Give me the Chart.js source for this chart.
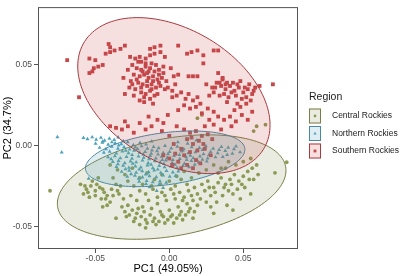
<!DOCTYPE html>
<html>
<head>
<meta charset="utf-8">
<script src="https://cdn.jsdelivr.net/npm/chart.js@4.4.1/dist/chart.umd.min.js"></script>
<style>
  html, body { margin: 0; padding: 0; background: #fff; }
  #wrap { width: 400px; height: 276px; }
</style>
</head>
<body>
<div id="wrap"><canvas id="pca" width="400" height="276"></canvas></div>
<script>
const X_TICKS = [-0.05, 0, 0.05];
const Y_TICKS = [-0.05, 0, 0.05];
const REGIONS = ['Central Rockies', 'Northern Rockies', 'Southern Rockies'];

// PC1 / PC2 scores
const central = [
  [-0.0806,-0.028],[-0.060,-0.024],[-0.056,-0.027],[-0.053,-0.025],[-0.050,-0.028],[-0.047,-0.026],[-0.044,-0.029],
  [-0.058,-0.030],[-0.054,-0.032],[-0.050,-0.031],[-0.046,-0.033],[-0.042,-0.031],[-0.052,-0.022],[-0.048,-0.020],
  [-0.039,-0.027],[-0.036,-0.024],[-0.040,-0.035],[-0.034,-0.030],[-0.031,-0.033],[-0.045,-0.038],
  [-0.036,-0.045],[-0.029,-0.044],[-0.042,-0.037],
  [-0.028,-0.037],[-0.025,-0.040],[-0.022,-0.042],[-0.019,-0.044],[-0.016,-0.046],[-0.013,-0.043],[-0.010,-0.045],
  [-0.007,-0.047],[-0.004,-0.044],[-0.001,-0.046],[0.002,-0.043],[0.005,-0.045],[0.008,-0.041],[0.011,-0.043],
  [0.014,-0.039],[0.017,-0.041],[-0.024,-0.047],[-0.020,-0.049],[-0.015,-0.048],[-0.009,-0.049],[-0.003,-0.048],
  [0.003,-0.048],[0.009,-0.046],[-0.016,-0.051],[-0.030,-0.041],[-0.012,-0.039],[-0.006,-0.041],[0.000,-0.040],
  [0.006,-0.038],[0.012,-0.036],[-0.018,-0.038],[-0.022,-0.034],[-0.026,-0.031],[-0.014,-0.034],[-0.008,-0.036],
  [-0.002,-0.034],[0.004,-0.033],[0.010,-0.032],[0.016,-0.034],[0.019,-0.037],
  [-0.020,-0.028],[-0.016,-0.030],[-0.011,-0.027],[-0.005,-0.029],[0.001,-0.027],[0.007,-0.029],[0.013,-0.028],
  [0.019,-0.030],[0.024,-0.028],[0.028,-0.031],[0.022,-0.024],[0.026,-0.022],[0.030,-0.026],[0.033,-0.023],
  [0.035,-0.020],[0.038,-0.024],[0.041,-0.021],[0.044,-0.018],[0.047,-0.022],[0.050,-0.019],[0.053,-0.016],
  [0.056,-0.014],[0.059,-0.012],[0.060,-0.018],[0.057,-0.021],[0.040,-0.028],[0.043,-0.030],[0.046,-0.027],
  [0.036,-0.031],[0.032,-0.035],[0.028,-0.038],[0.025,-0.035],[0.048,-0.033],[0.051,-0.026],[0.039,-0.037],
  [0.030,-0.042],[0.043,-0.040],[0.055,-0.030],[0.0714,-0.0169],[0.0793,-0.0103],
  [0.019,0.017],[0.022,0.019],[0.057,0.009],[0.059,0.012],[0.065,0.013],
  [-0.040,-0.012],[-0.035,-0.015],[-0.030,-0.018],[-0.025,-0.014],[-0.020,-0.020],[-0.015,-0.017],[-0.010,-0.021],
  [-0.005,-0.018],[0.000,-0.022],[0.005,-0.019],[0.010,-0.016],[0.015,-0.020],[0.020,-0.017],[0.025,-0.015],
  [0.030,-0.012],[0.035,-0.014],[0.040,-0.010],[0.045,-0.012],[-0.028,-0.022],[-0.033,-0.025],[-0.038,-0.020],
  [0.012,-0.024],[0.017,-0.026],
  [-0.057,-0.025],[-0.055,-0.029],[-0.049,-0.024],[-0.045,-0.027],[-0.043,-0.033],[-0.038,-0.031],[-0.035,-0.028],
  [-0.032,-0.038],[-0.027,-0.043],[-0.023,-0.045],[-0.021,-0.039],[-0.017,-0.041],[-0.011,-0.047],[-0.005,-0.043],
  [0.001,-0.044],[0.007,-0.043],[0.013,-0.041],[0.016,-0.045],[-0.008,-0.032],[-0.003,-0.031],[0.003,-0.030],
  [0.009,-0.034],[0.015,-0.031],[0.021,-0.033],[0.027,-0.026],[0.031,-0.029],[0.037,-0.026],[0.042,-0.024],
  [0.049,-0.024],[0.054,-0.021],[-0.024,-0.025],[-0.018,-0.024],[-0.012,-0.025],[-0.006,-0.024],[0.004,-0.025],
  [0.008,-0.021],[0.033,-0.017],[0.038,-0.014],[0.050,-0.010],[0.055,-0.008]
];

const northern = [
  [-0.0756,0.0053],[-0.0727,-0.0042],[-0.0545,-0.0204],
  [-0.058,0.0048],[-0.0553,0.0041],[-0.0521,0.0052],[-0.0494,0.0037],[-0.0462,0.0049],[-0.0437,0.0031],[-0.0405,0.0044],
  [-0.0372,0.0036],[-0.0346,0.0051],[-0.0311,0.0028],
  [-0.0498,0.0012],[-0.0452,0.0019],[-0.0413,0.0006],[-0.0366,0.0015],[-0.0324,0.0009],[-0.0281,0.0022],[-0.0243,0.0004],
  [-0.0198,0.0017],[-0.0157,0.0008],[-0.0119,0.0026],[0.0058,0.0021],[0.0124,0.0013],[0.0183,0.0032],
  [-0.0471,-0.0013],[-0.0428,-0.0021],[-0.0389,-0.0006],[-0.0347,-0.0018],[-0.0306,-0.0009],[-0.0268,-0.0024],
  [-0.0229,-0.0011],[-0.0187,-0.0003],[-0.0148,-0.0019],[-0.0106,-0.0008],[-0.0072,-0.0015],[-0.0029,-0.0002],
  [0.0013,-0.0017],[0.0054,-0.0006],[0.0098,-0.0022],[0.0151,-0.0009],[0.0203,-0.0014],[0.0247,-0.0003],
  [0.0296,-0.0019],[0.0352,-0.0008],[0.0398,-0.0012],[0.0451,-0.0004],
  [-0.0442,-0.0043],[-0.0403,-0.0037],[-0.0358,-0.0048],[-0.0317,-0.0035],[-0.0276,-0.0046],[-0.0238,-0.0031],
  [-0.0201,-0.0044],[-0.0163,-0.0038],[-0.0122,-0.0049],[-0.0083,-0.0034],[-0.0041,-0.0045],[0.0002,-0.0039],
  [0.0043,-0.0051],[0.0082,-0.0036],[0.0128,-0.0047],[0.0176,-0.0041],[0.0231,-0.0053],[0.0279,-0.0038],
  [0.0327,-0.0046],[0.0378,-0.0033],[0.0426,-0.0049],[0.0478,-0.0041],
  [-0.0414,-0.0072],[-0.0368,-0.0065],[-0.0331,-0.0078],[-0.0289,-0.0069],[-0.0252,-0.0081],[-0.0208,-0.0066],
  [-0.0173,-0.0075],[-0.0129,-0.0063],[-0.0091,-0.0079],[-0.0052,-0.0068],[-0.0014,-0.0076],[0.0032,-0.0064],
  [0.0071,-0.0082],[0.0113,-0.0071],[0.0162,-0.0077],[0.0207,-0.0066],[0.0259,-0.0079],[0.0312,-0.0072],[0.0361,-0.0069],
  [-0.0382,-0.0101],[-0.0343,-0.0094],[-0.0301,-0.0108],[-0.0262,-0.0097],[-0.0224,-0.0103],[-0.0181,-0.0092],
  [-0.0143,-0.0109],[-0.0098,-0.0096],[-0.0061,-0.0104],[-0.0023,-0.0091],[0.0019,-0.0107],[0.0063,-0.0099],
  [0.0102,-0.0111],[0.0149,-0.0095],[0.0198,-0.0104],[0.0253,-0.0098],
  [-0.0357,-0.0132],[-0.0312,-0.0124],[-0.0273,-0.0137],[-0.0229,-0.0128],[-0.0192,-0.0135],[-0.0148,-0.0122],
  [-0.0111,-0.0139],[-0.0068,-0.0126],[-0.0032,-0.0134],[0.0011,-0.0129],[0.0052,-0.0138],[0.0093,-0.0125],[0.0134,-0.0133],
  [-0.0322,-0.0162],[-0.0271,-0.0155],[-0.0224,-0.0167],[-0.0183,-0.0158],[-0.0139,-0.0164],[-0.0102,-0.0153],
  [-0.0058,-0.0168],[-0.0019,-0.0157],[0.0024,-0.0166],[0.0061,-0.0159],
  [-0.0284,-0.0193],[-0.0232,-0.0186],[-0.0181,-0.0197],[-0.0134,-0.0189],[-0.0088,-0.0195],[-0.0042,-0.0184],
  [0.0003,-0.0192],[0.0042,-0.0188],
  [-0.0204,-0.0223],[-0.0153,-0.0218],[-0.0112,-0.0227],[-0.0063,-0.0221],[-0.0021,-0.0229],
  [-0.0133,-0.0258],[-0.0085,-0.0281],[-0.0042,-0.0262],
  [-0.0449,0.0026],[-0.0388,0.0021],[-0.0342,0.0002],[-0.0294,-0.0031],[-0.0251,-0.0058],[-0.0214,-0.0021],
  [-0.0176,-0.0054],[-0.0137,-0.0084],[-0.0117,-0.0029],[-0.0076,-0.0055],[-0.0047,-0.0088],[-0.0009,-0.0052],
  [0.0024,-0.0089],[0.0068,-0.0058],[0.0091,-0.0031],[0.0142,-0.0062],[0.0187,-0.0088],[0.0224,-0.0027],
  [0.0268,-0.0058],[0.0337,-0.0026],[0.0391,-0.0057],[0.0437,-0.0022],[-0.0393,-0.0083],[-0.0347,-0.0114],
  [-0.0296,-0.0146],[-0.0247,-0.0112],[-0.0203,-0.0147],[-0.0159,-0.0178],[-0.0123,-0.0118],[-0.0078,-0.0148],
  [-0.0037,-0.0113],[0.0038,-0.0118],[0.0082,-0.0146],[0.0118,-0.0088],[0.0172,-0.0118],[0.0224,-0.0087],
  [-0.0258,-0.0176],[-0.0207,-0.0204],[-0.0157,-0.0238],[-0.0069,-0.0243]
];

const southern = [
  [-0.069,0.053],[-0.061,0.030],
  [-0.054,0.054],[-0.050,0.053],[-0.051,0.048],[-0.048,0.049],[-0.045,0.050],[-0.054,0.045],[-0.052,0.046],
  [-0.043,0.057],[-0.040,0.058],[-0.037,0.059],[-0.033,0.060],[-0.030,0.062],[-0.040,0.061],[-0.041,0.063],
  [-0.0265,0.055],[-0.023,0.054],[-0.020,0.055],[-0.016,0.054],[-0.013,0.056],[-0.010,0.057],[-0.006,0.058],
  [-0.003,0.055],[-0.006,0.062],[-0.010,0.061],[-0.013,0.060],
  [-0.025,0.050],[-0.022,0.048],[-0.019,0.047],[-0.016,0.049],[-0.013,0.048],[-0.010,0.046],[-0.007,0.047],
  [-0.004,0.045],[-0.024,0.044],[-0.020,0.043],[-0.017,0.044],[-0.014,0.042],[-0.011,0.043],[-0.008,0.041],
  [-0.005,0.042],[-0.002,0.040],[-0.026,0.040],[-0.021,0.039],[-0.018,0.038],[-0.015,0.037],[-0.012,0.038],
  [-0.009,0.036],[-0.006,0.037],[-0.003,0.035],[-0.023,0.035],[-0.019,0.033],[-0.016,0.032],[-0.013,0.034],
  [-0.010,0.031],[-0.020,0.028],[-0.017,0.027],[-0.013,0.029],[-0.018,0.046],[-0.015,0.045],[-0.012,0.051],
  [-0.009,0.050],[0.001,0.048],[0.003,0.043],[-0.021,0.052],[-0.028,0.047],[-0.031,0.042],[-0.027,0.036],
  [-0.030,0.032],[-0.024,0.031],[-0.008,0.032],[-0.001,0.036],[0.004,0.038],[0.006,0.044],
  [-0.019,0.052],[-0.016,0.051],[-0.014,0.046],[-0.011,0.040],[-0.007,0.044],[-0.004,0.049],[-0.022,0.041],
  [-0.019,0.036],[-0.015,0.040],[-0.012,0.035],[-0.007,0.039],[-0.025,0.038],[-0.017,0.030],[-0.011,0.026],[0.002,0.030],
  [0.006,0.062],[0.012,0.057],[0.015,0.058],[0.019,0.059],[0.023,0.056],[0.030,0.059],[0.033,0.059],
  [0.023,0.051],[0.013,0.043],[0.016,0.043],[0.019,0.043],[0.033,0.045],[0.036,0.042],[0.034,0.039],[0.039,0.039],
  [0.025,0.038],[0.029,0.036],[0.032,0.039],[0.035,0.037],[0.038,0.035],[0.041,0.037],[0.044,0.034],[0.047,0.036],
  [0.050,0.033],[0.053,0.035],[0.056,0.032],[0.058,0.036],[0.030,0.033],[0.034,0.031],[0.037,0.032],[0.040,0.030],
  [0.045,0.031],[0.049,0.029],[0.052,0.030],[0.055,0.028],[0.027,0.031],[0.043,0.039],[0.048,0.040],[0.036,0.041],
  [0.061,0.037],[0.070,0.038],[0.052,0.026],[0.046,0.026],[0.044,0.022],[0.048,0.024],[0.056,0.021],
  [0.038,0.038],[0.042,0.033],[0.046,0.038],[0.051,0.036],[0.054,0.038],[0.031,0.036],[0.057,0.034],[0.039,0.027],
  [0.002,0.034],[0.005,0.031],[0.008,0.033],[0.011,0.029],[0.013,0.032],[0.016,0.028],[0.019,0.030],[0.021,0.026],
  [0.010,0.025],[0.014,0.023],[0.018,0.024],[0.006,0.022],[0.022,0.020],[0.026,0.023],[0.030,0.021],[0.033,0.018],
  [0.037,0.016],[0.041,0.018],[0.045,0.015],[0.030,0.013],[0.027,0.016],[0.024,0.012],[0.049,0.019],[0.053,0.016],
  [0.042,0.012],[0.035,0.010],
  [-0.040,0.012],[-0.036,0.011],[-0.032,0.010],[-0.028,0.012],[-0.024,0.008],[-0.020,0.014],[-0.016,0.010],
  [-0.012,0.012],[-0.008,0.016],[-0.004,0.014],[-0.001,0.019],[-0.030,0.015],[-0.014,0.018],[-0.005,0.009],[0.000,0.006],
  [0.005,0.012],[0.010,0.010],[0.014,0.008],[0.018,0.009],[0.022,0.006],[0.026,0.007],[0.029,0.004],[0.012,0.004],
  [0.016,0.001],[0.020,0.003],[0.008,-0.002],[0.004,-0.005],[0.010,-0.006],[0.014,-0.004],[0.000,-0.008],
  [0.006,-0.010],[0.012,-0.012],[0.018,-0.009],[0.024,-0.002],[0.002,-0.012],[0.008,-0.014],[-0.004,-0.006],
  [0.016,-0.014],[0.028,-0.006],[0.015,0.005],[0.019,-0.003],[0.023,0.001],[0.021,-0.011],[0.003,0.001]
];

// 95% ellipses: centre x, centre y, then two conjugate semi-axes (dx, dy)
const ellipseCentral  = [0.0016, -0.0257, 0.0770, 0.0127, 0.0061, -0.0298];
const ellipseNorthern = [-0.0028, -0.0082, 0.0538, 0.0065, 0.0024, -0.0160];
const ellipseSouthern = [0.0031, 0.0310, 0.0603, -0.0336, 0.0242, 0.0348];

const POINT_COLORS = ['#8c9b55', '#4ea2ba', '#c5484b'];
const LINE_COLORS  = ['#7a7d45', '#4a88a0', '#a8393f'];
const FILL_COLORS  = ['rgba(140,150,90,0.18)', 'rgba(75,160,190,0.18)', 'rgba(200,65,65,0.17)'];
const SHAPES = ['circle', 'triangle', 'rect'];
const FONT = '"Liberation Sans", Arial, sans-serif';

const toXY = arr => arr.map(([x, y]) => ({ x, y }));

function ellipsePath(ctx, xs, ys, e) {
  ctx.beginPath();
  for (let k = 0; k <= 144; k++) {
    const t = k / 144 * Math.PI * 2;
    const px = xs.getPixelForValue(e[0] + e[2] * Math.cos(t) + e[4] * Math.sin(t));
    const py = ys.getPixelForValue(e[1] + e[3] * Math.cos(t) + e[5] * Math.sin(t));
    if (k === 0) ctx.moveTo(px, py); else ctx.lineTo(px, py);
  }
  ctx.closePath();
}

const ellipsePlugin = {
  id: 'ellipses',
  afterDatasetsDraw(chart) {
    const { ctx, chartArea: a, scales: { x, y } } = chart;
    ctx.save();
    ctx.beginPath();
    ctx.rect(a.left, a.top, a.right - a.left, a.bottom - a.top);
    ctx.clip();
    [ellipseCentral, ellipseNorthern, ellipseSouthern].forEach((e, i) => {
      ellipsePath(ctx, x, y, e);
      ctx.fillStyle = FILL_COLORS[i];
      ctx.fill();
      ctx.strokeStyle = LINE_COLORS[i];
      ctx.lineWidth = 1;
      ctx.stroke();
    });
    ctx.restore();
  },
  afterDraw(chart) {
    const { ctx, chartArea: a } = chart;
    ctx.save();
    // panel border
    ctx.strokeStyle = '#555';
    ctx.lineWidth = 1;
    ctx.strokeRect(a.left + 0.5, a.top + 0.5, a.right - a.left - 1, a.bottom - a.top - 1);

    // legend
    ctx.fillStyle = '#1a1a1a';
    ctx.font = `10.5px ${FONT}`;
    ctx.textAlign = 'left';
    ctx.textBaseline = 'middle';
    ctx.fillText('Region', 309, 97);
    ctx.font = `8.5px ${FONT}`;
    REGIONS.forEach((name, i) => {
      const top = 108.5 + i * 17.5;
      ctx.fillStyle = FILL_COLORS[i];
      ctx.fillRect(309, top, 12, 15);
      ctx.strokeStyle = LINE_COLORS[i];
      ctx.strokeRect(309.5, top + 0.5, 11, 14);
      ctx.fillStyle = POINT_COLORS[i];
      ctx.beginPath();
      if (SHAPES[i] === 'circle') ctx.arc(315, top + 7.5, 1.4, 0, Math.PI * 2);
      else if (SHAPES[i] === 'triangle') { ctx.moveTo(315, top + 5.7); ctx.lineTo(316.7, top + 8.6); ctx.lineTo(313.3, top + 8.6); }
      else ctx.rect(313.6, top + 6.1, 2.8, 2.8);
      ctx.fill();
      ctx.fillStyle = '#1a1a1a';
      ctx.fillText(name, 332, top + 7.5);
    });
    ctx.restore();
  }
};

const datasets = [central, northern, southern].map((pts, i) => ({
  label: REGIONS[i],
  data: toXY(pts),
  pointStyle: SHAPES[i],
  pointRadius: [1.9, 2.3, 2.7][i],
  pointBorderWidth: 0,
  backgroundColor: POINT_COLORS[i],
  borderColor: POINT_COLORS[i],
  order: 3 - i,
}));

new Chart(document.getElementById('pca'), {
  type: 'scatter',
  data: { datasets },
  options: {
    responsive: false,
    animation: false,
    devicePixelRatio: 1,
    layout: { padding: { top: 1, right: 102, left: 0, bottom: 0 } },
    plugins: { legend: { display: false }, tooltip: { enabled: false } },
    scales: {
      x: {
        min: -0.08872, max: 0.08696,
        afterBuildTicks: s => { s.ticks = X_TICKS.map(v => ({ value: v })); },
        afterFit: s => { s.height = 27; },
        ticks: { color: '#4d4d4d', font: { family: FONT, size: 8.5 }, padding: 1, maxRotation: 0,
                 callback: v => Number(v).toFixed(2) },
        grid: { drawOnChartArea: false, tickLength: 4, color: '#555' },
        border: { display: false },
        title: { display: true, text: 'PC1 (49.05%)', color: '#000', font: { family: FONT, size: 11 }, padding: 0 },
      },
      y: {
        min: -0.06413, max: 0.08590,
        afterBuildTicks: s => { s.ticks = Y_TICKS.map(v => ({ value: v })); },
        afterFit: s => { s.width = 38; },
        ticks: { color: '#4d4d4d', font: { family: FONT, size: 8.5 }, padding: 2,
                 callback: v => Number(v).toFixed(2) },
        grid: { drawOnChartArea: false, tickLength: 4, color: '#555' },
        border: { display: false },
        title: { display: true, text: 'PC2 (34.7%)', color: '#000', font: { family: FONT, size: 11 }, padding: { top: 1.4, bottom: 0 } },
      },
    },
  },
  plugins: [ellipsePlugin],
});
</script>
</body>
</html>
